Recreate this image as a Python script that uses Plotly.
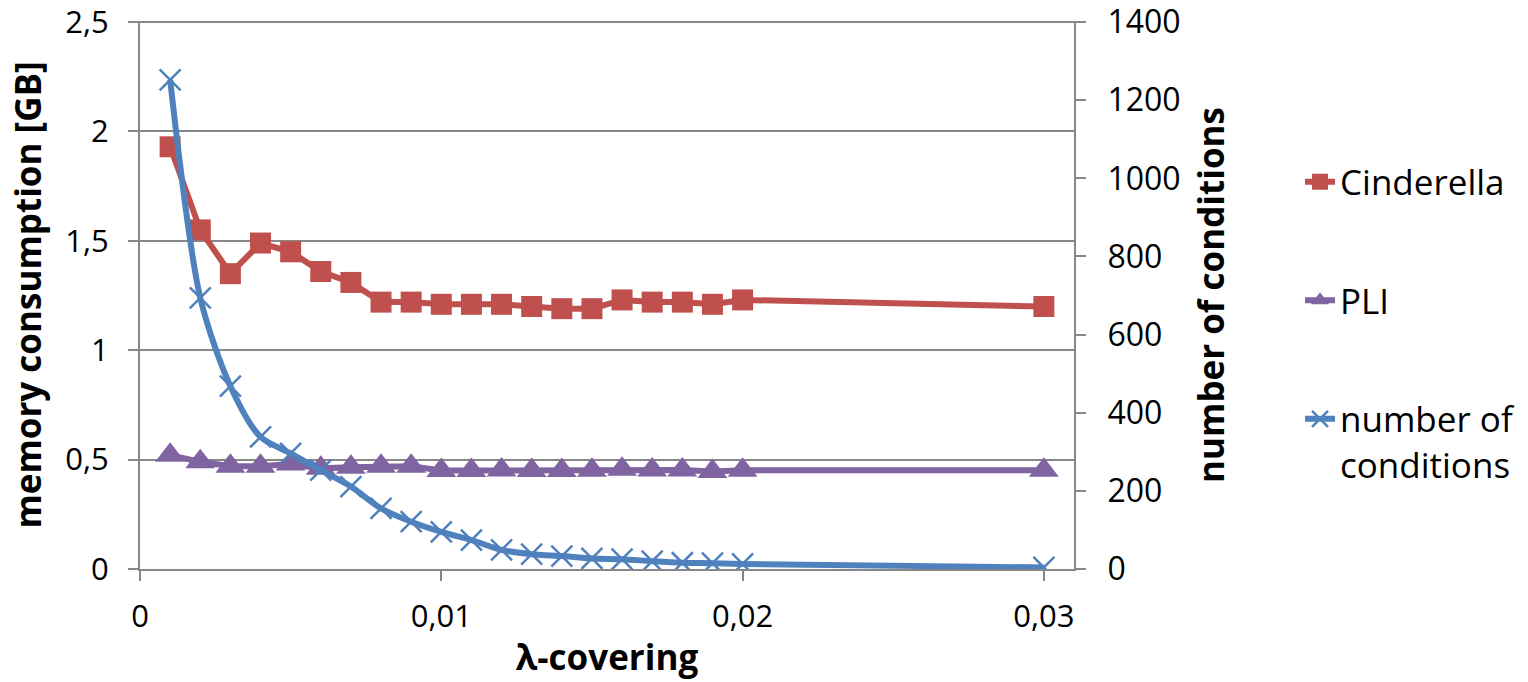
import plotly.graph_objects as go

# ---- data ----
lambda_cov = [0.001, 0.002, 0.003, 0.004, 0.005, 0.006, 0.007, 0.008, 0.009, 0.010,
              0.011, 0.012, 0.013, 0.014, 0.015, 0.016, 0.017, 0.018, 0.019, 0.020, 0.030]
cinderella_gb = [1.93, 1.55, 1.35, 1.49, 1.45, 1.36, 1.31, 1.22, 1.22, 1.21,
                 1.21, 1.21, 1.20, 1.19, 1.19, 1.23, 1.22, 1.22, 1.21, 1.23, 1.20]
pli_gb = [0.52, 0.49, 0.47, 0.47, 0.48, 0.46, 0.465, 0.47, 0.47, 0.45,
          0.45, 0.452, 0.45, 0.45, 0.451, 0.456, 0.452, 0.452, 0.446, 0.451, 0.451]
num_conditions = [1252, 694, 468, 338, 296, 253, 211, 155, 121, 95,
                  74, 49, 38, 33, 27, 25, 20, 16, 15, 13, 4]

x_tickvals = [0, 0.01, 0.02, 0.03]
x_ticktext = ["0", "0,01", "0,02", "0,03"]
y_tickvals = [0, 0.5, 1, 1.5, 2, 2.5]
y_ticktext = ["0", "0,5", "1", "1,5", "2", "2,5"]
y2_tickvals = [0, 200, 400, 600, 800, 1000, 1200, 1400]

RED = "#C0504D"
PURPLE = "#8064A2"
BLUE = "#4F81BD"
GRID = "#878787"
FONT = "Open Sans"

fig = go.Figure()
fig.add_trace(go.Scatter(
    x=lambda_cov, y=cinderella_gb, name="Cinderella", mode="lines+markers",
    line=dict(color=RED, width=6),
    marker=dict(symbol="square", size=21, color=RED),
    legendgroup="a"))
fig.add_trace(go.Scatter(
    x=lambda_cov, y=pli_gb, name="PLI", mode="lines+markers",
    line=dict(color=PURPLE, width=6),
    marker=dict(symbol="triangle-up", size=26, color=PURPLE),
    legendgroup="b"))
fig.add_trace(go.Scatter(
    x=lambda_cov, y=num_conditions, name="number of<br>conditions", mode="lines+markers",
    line=dict(color=BLUE, width=6, shape="spline", smoothing=0.8),
    marker=dict(symbol="x-thin", size=21, color=BLUE, line=dict(color=BLUE, width=2.5)),
    yaxis="y2", legendgroup="c"))

fig.update_layout(
    width=1528, height=682,
    margin=dict(l=140, r=454, t=21, b=113, autoexpand=False),
    paper_bgcolor="white", plot_bgcolor="white",
    font=dict(family=FONT, color="black", size=31),
    showlegend=True,
    legend=dict(
        x=1.242, xanchor="left", y=0.76, yanchor="top",
        font=dict(family=FONT, size=35, color="black"),
        traceorder="grouped", tracegroupgap=70, valign="top",
        bgcolor="rgba(0,0,0,0)"),
    xaxis=dict(
        range=[0, 0.031], tickvals=x_tickvals, ticktext=x_ticktext, automargin=False,
        showgrid=False, zeroline=False, showline=True, linecolor=GRID, linewidth=2,
        ticks="outside", ticklen=10, tickwidth=2, tickcolor=GRID,
        tickfont=dict(size=31), ticklabelstandoff=9, ticklabeloverflow="allow",
        title=dict(text="<b>λ-covering</b>", font=dict(size=35), standoff=10)),
    yaxis=dict(
        range=[0, 2.505], tickvals=y_tickvals, ticktext=y_ticktext, automargin=False,
        showgrid=True, gridcolor=GRID, gridwidth=2, zeroline=False,
        showline=True, linecolor=GRID, linewidth=2,
        ticks="outside", ticklen=10, tickwidth=2, tickcolor=GRID,
        tickfont=dict(size=31), ticklabelstandoff=13, ticklabeloverflow="allow",
        title=dict(text="<b>memory consumption [GB]</b>", font=dict(size=35), standoff=13)),
    yaxis2=dict(
        range=[0, 1402.8], tickvals=y2_tickvals, overlaying="y", side="right", automargin=False,
        showgrid=False, zeroline=False, showline=True, linecolor=GRID, linewidth=2,
        ticks="outside", ticklen=10, tickwidth=2, tickcolor=GRID,
        tickfont=dict(size=32), ticklabelstandoff=15, ticklabeloverflow="allow"),
    annotations=[dict(
        text="<b>number of conditions</b>", textangle=-90,
        xref="paper", yref="paper", x=1.1456, y=0.5,
        xanchor="center", yanchor="middle", showarrow=False,
        font=dict(family=FONT, size=35, color="black"))],
)

fig.write_html("out.html", config={"displayModeBar": False},
               post_script="document.body.style.margin='0';document.body.style.overflow='hidden';")
